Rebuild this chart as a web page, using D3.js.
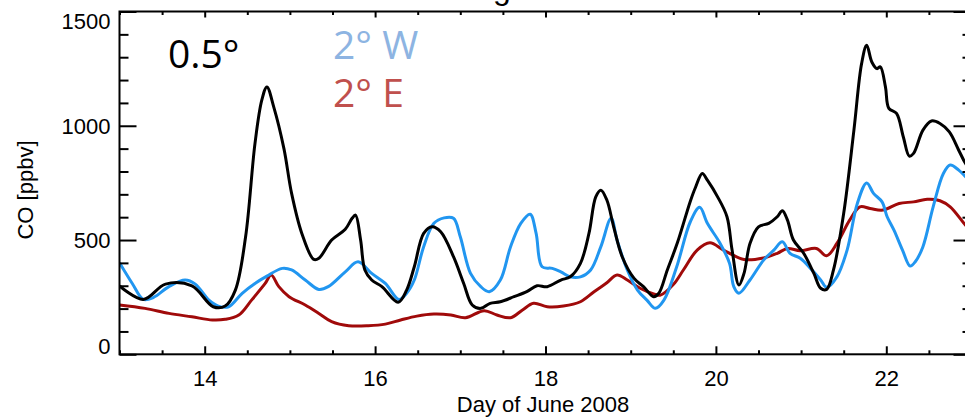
<!DOCTYPE html>
<html>
<head>
<meta charset="utf-8">
<script src="https://cdn.jsdelivr.net/npm/d3@7"></script>
<style>
  html, body { margin: 0; padding: 0; background: #fff; }
  svg { display: block; }
</style>
</head>
<body>
<svg id="chart" width="965" height="419"></svg>
<script>
// Surface CO at Shanghai, June 2008, for three model resolutions/offsets
const fineDays = [13.00, 13.28, 13.54, 13.85, 14.10, 14.24, 14.36, 14.48, 14.59, 14.67, 14.73, 14.81, 14.93, 15.02, 15.14, 15.28, 15.34, 15.49, 15.65, 15.73, 15.77, 15.83, 15.88, 15.96, 16.08, 16.27, 16.37, 16.46, 16.57, 16.67, 16.77, 16.92, 17.04, 17.14, 17.24, 17.35, 17.47, 17.63, 17.78, 17.90, 18.02, 18.18, 18.29, 18.41, 18.51, 18.59, 18.65, 18.72, 18.80, 18.90, 19.04, 19.15, 19.27, 19.33, 19.43, 19.55, 19.70, 19.76, 19.84, 19.90, 20.02, 20.13, 20.19, 20.27, 20.33, 20.40, 20.50, 20.62, 20.72, 20.78, 20.84, 20.91, 21.03, 21.15, 21.23, 21.30, 21.38, 21.50, 21.62, 21.71, 21.77, 21.83, 21.89, 21.93, 21.99, 22.03, 22.12, 22.20, 22.27, 22.32, 22.43, 22.53, 22.63, 22.74, 22.85, 22.93, 23.00];
const fineCO = [299, 240, 307, 299, 208, 211, 281, 514, 922, 1112, 1170, 1083, 900, 704, 529, 415, 420, 500, 547, 595, 609, 500, 369, 325, 296, 228, 281, 383, 529, 558, 536, 427, 310, 216, 201, 223, 230, 252, 274, 300, 296, 325, 339, 398, 529, 689, 718, 675, 558, 427, 332, 296, 252, 267, 369, 490, 670, 730, 791, 762, 689, 602, 456, 303, 354, 485, 558, 573, 602, 628, 587, 500, 442, 354, 289, 284, 369, 617, 981, 1272, 1352, 1279, 1250, 1258, 1170, 1076, 1054, 951, 867, 879, 981, 1021, 1010, 973, 893, 835, 800];

const westDays = [13.00, 13.15, 13.28, 13.40, 13.58, 13.77, 13.89, 14.05, 14.16, 14.28, 14.44, 14.59, 14.73, 14.91, 15.02, 15.18, 15.34, 15.45, 15.65, 15.80, 15.96, 16.12, 16.28, 16.37, 16.46, 16.57, 16.69, 16.81, 16.92, 17.00, 17.12, 17.24, 17.34, 17.47, 17.59, 17.71, 17.82, 17.89, 17.96, 18.08, 18.18, 18.29, 18.41, 18.53, 18.65, 18.77, 18.84, 18.96, 19.08, 19.19, 19.29, 19.39, 19.54, 19.70, 19.81, 19.90, 20.05, 20.16, 20.21, 20.27, 20.40, 20.56, 20.68, 20.78, 20.87, 20.99, 21.11, 21.23, 21.30, 21.42, 21.54, 21.66, 21.77, 21.85, 21.95, 22.01, 22.09, 22.19, 22.28, 22.34, 22.43, 22.55, 22.67, 22.75, 22.85, 22.93, 23.00];
const westCO = [401, 310, 240, 249, 296, 325, 307, 237, 211, 208, 267, 310, 342, 376, 369, 325, 284, 296, 361, 405, 354, 310, 240, 267, 325, 471, 573, 597, 595, 514, 354, 296, 274, 325, 471, 573, 613, 529, 383, 376, 361, 339, 339, 369, 471, 595, 500, 369, 281, 237, 201, 237, 383, 580, 643, 573, 485, 398, 296, 267, 325, 412, 456, 492, 442, 420, 376, 325, 293, 339, 456, 660, 750, 704, 667, 602, 543, 456, 386, 405, 471, 645, 791, 828, 806, 777, 750];

const eastDays = [13.00, 13.30, 13.58, 13.85, 14.09, 14.24, 14.40, 14.55, 14.71, 14.78, 14.87, 14.99, 15.18, 15.34, 15.49, 15.69, 15.92, 16.12, 16.30, 16.49, 16.69, 16.89, 17.06, 17.28, 17.43, 17.59, 17.73, 17.86, 18.02, 18.21, 18.41, 18.57, 18.72, 18.84, 18.96, 19.11, 19.27, 19.35, 19.50, 19.62, 19.78, 19.93, 20.09, 20.33, 20.56, 20.72, 20.84, 20.99, 21.18, 21.30, 21.42, 21.57, 21.69, 21.81, 21.96, 22.15, 22.32, 22.48, 22.63, 22.75, 22.93, 23.00];
const eastCO = [216, 201, 179, 164, 150, 153, 172, 237, 310, 347, 296, 252, 216, 179, 143, 125, 125, 132, 150, 167, 176, 172, 160, 191, 172, 160, 194, 223, 208, 211, 230, 274, 313, 347, 325, 289, 264, 259, 305, 370, 456, 488, 456, 415, 422, 442, 463, 453, 463, 431, 485, 587, 645, 638, 631, 660, 667, 678, 672, 645, 565, 540];

const majorY = [0, 500, 1000, 1500];
const minorY = d3.range(0, 1501, 100).filter(v => v % 500 !== 0);
const majorX = [14, 16, 18, 20, 22];
const minorX = d3.range(13, 23.01, 0.5).filter(v => !majorX.includes(v));

const titleText = "Shanghai Surface";
const seriesLabels = ["0.5°", "2° W", "2° E"];

const svg = d3.select("#chart");
const plotLeft = 119.5, plotRight = 971.5, plotTop = 11.5, plotBottom = 354.3;

const x = d3.scaleLinear().domain([13, 23]).range([plotLeft, plotRight]);
const y = d3.scaleLinear().domain([0, 1500]).range([plotBottom, plotTop]);

const axisFont = "'Liberation Sans', Arial, Helvetica, sans-serif";

// title, running off the top edge of the figure
svg.append("text")
  .attr("x", (plotLeft + plotRight) / 2).attr("y", -1)
  .attr("text-anchor", "middle")
  .style("font-family", axisFont).style("font-size", "32px")
  .text(titleText);

svg.append("clipPath").attr("id", "plotclip")
  .append("rect").attr("x", plotLeft).attr("y", plotTop)
  .attr("width", plotRight - plotLeft).attr("height", plotBottom - plotTop);

const plot = svg.append("g").attr("clip-path", "url(#plotclip)");

const lineOf = (days, vals, curve) => d3.line()
  .x((d, i) => x(days[i])).y(d => y(d)).curve(curve)(vals);

const smooth = d3.curveCatmullRom.alpha(0.5);

plot.append("path")
  .attr("d", lineOf(eastDays, eastCO, smooth))
  .attr("fill", "none").attr("stroke", "#a00a0a").attr("stroke-width", 3)
  .attr("stroke-linejoin", "round");
plot.append("path")
  .attr("d", lineOf(westDays, westCO, smooth))
  .attr("fill", "none").attr("stroke", "#2196f0").attr("stroke-width", 3)
  .attr("stroke-linejoin", "round");
plot.append("path")
  .attr("d", lineOf(fineDays, fineCO, smooth))
  .attr("fill", "none").attr("stroke", "#000").attr("stroke-width", 3)
  .attr("stroke-linejoin", "round");

// axes, ticks pointing into the plot
function styleAxis(g) {
  g.select(".domain").remove();
  g.selectAll(".tick line").attr("stroke", "#000").attr("stroke-width", 2);
  g.selectAll(".tick text").style("font-family", axisFont).style("font-size", "22px").attr("fill", "#000");
}

const yMajor = svg.append("g").attr("transform", `translate(${plotLeft},0)`)
  .call(d3.axisLeft(y).tickValues(majorY).tickSize(-17).tickPadding(9).tickFormat(d3.format("d")))
  .call(styleAxis);
yMajor.selectAll(".tick text").attr("dy", d => d === 0 ? "-0.05em" : d === 1500 ? "0.75em" : "0.35em");

svg.append("g").attr("transform", `translate(${plotLeft},0)`)
  .call(d3.axisLeft(y).tickValues(minorY).tickSize(-9).tickFormat(""))
  .call(styleAxis);

svg.append("g").attr("transform", `translate(${plotRight},0)`)
  .call(d3.axisRight(y).tickValues(majorY).tickSize(-18).tickFormat(""))
  .call(styleAxis);
svg.append("g").attr("transform", `translate(${plotRight},0)`)
  .call(d3.axisRight(y).tickValues(minorY).tickSize(-9).tickFormat(""))
  .call(styleAxis);

svg.append("g").attr("transform", `translate(0,${plotBottom})`)
  .call(d3.axisBottom(x).tickValues(majorX).tickSize(-8).tickPadding(16).tickFormat(d3.format("d")))
  .call(styleAxis);
svg.append("g").attr("transform", `translate(0,${plotBottom})`)
  .call(d3.axisBottom(x).tickValues(minorX).tickSize(-4).tickFormat(""))
  .call(styleAxis);

svg.append("g").attr("transform", `translate(0,${plotTop})`)
  .call(d3.axisTop(x).tickValues(majorX).tickSize(-6).tickFormat(""))
  .call(styleAxis);
svg.append("g").attr("transform", `translate(0,${plotTop})`)
  .call(d3.axisTop(x).tickValues(minorX).tickSize(-3.5).tickFormat(""))
  .call(styleAxis);

// frame
svg.append("rect")
  .attr("x", plotLeft).attr("y", plotTop)
  .attr("width", plotRight - plotLeft).attr("height", plotBottom - plotTop)
  .attr("fill", "none").attr("stroke", "#000").attr("stroke-width", 2);

// axis titles
svg.append("text")
  .attr("x", 543).attr("y", 412)
  .attr("text-anchor", "middle")
  .style("font-family", axisFont).style("font-size", "22px")
  .text("Day of June 2008");

svg.append("text")
  .attr("transform", "translate(33,190) rotate(-90)")
  .attr("text-anchor", "middle")
  .style("font-family", axisFont).style("font-size", "22px")
  .text("CO [ppbv]");

// series labels
const labelFont = "'Open Sans', 'Noto Sans', sans-serif";
const labelSpec = [
  { text: seriesLabels[0], x: 168, y: 68, color: "#000000" },
  { text: seriesLabels[1], x: 333, y: 59, color: "#8db4e2" },
  { text: seriesLabels[2], x: 333, y: 107, color: "#c0504d" }
];
svg.selectAll("text.series-label").data(labelSpec).join("text")
  .attr("class", "series-label")
  .attr("x", d => d.x).attr("y", d => d.y)
  .attr("fill", d => d.color)
  .style("font-family", labelFont).style("font-size", "39px")
  .text(d => d.text);
</script>
</body>
</html>
